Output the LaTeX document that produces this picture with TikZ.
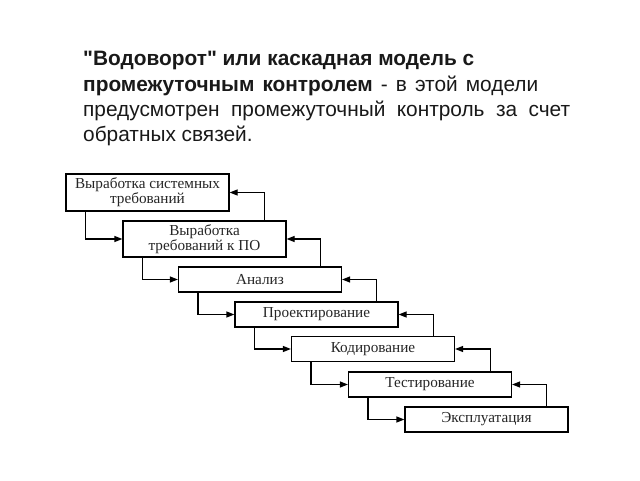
\documentclass[tikz,border=0pt]{standalone}
\usepackage{fontspec}
\setmainfont{Liberation Serif}
\newfontfamily\hdrfont{Liberation Sans}
\usetikzlibrary{arrows.meta}
\newlength\LenOne
\newlength\LenBox
\begin{document}
\settowidth\LenOne{\hdrfont\fontsize{10pt}{12pt}\selectfont\bfseries "Водоворот" или каскадная модель с}
\settowidth\LenBox{\fontsize{10pt}{12pt}\selectfont Выработка системных}
\pgfmathsetmacro\HdrSize{10*391/\LenOne}
\pgfmathsetmacro\HdrSkip{12*391/\LenOne}
\pgfmathsetmacro\BoxSize{10*145/\LenBox}
\begin{tikzpicture}[x=1pt,y=-1pt,
  hdr/.style={anchor=base west, inner sep=0pt, text=black!90,
    font=\hdrfont\fontsize{\HdrSize pt}{\HdrSkip pt}\selectfont},
  stage/.style={draw=black, line width=1.2pt, minimum width=163pt, inner sep=1pt,
    align=center, text=black!85, fill=white,
    font=\fontsize{\BoxSize pt}{15pt}\selectfont},
  arr/.style={line width=1.2pt, draw=black, -{Triangle[length=8pt,width=6pt]}}
]
\useasboundingbox[fill=white] (0,0) rectangle (640,480);

% header text
\node[hdr] (l1) at (83,65) {\bfseries "Водоворот" или каскадная модель с};
\node[hdr] (l2) at (83,91) {\makebox[455pt][s]{\bfseries промежуточным контролем\mdseries{} - в  этой  модели}};
\node[hdr] (l3) at (83,116) {\makebox[487pt][s]{предусмотрен  промежуточный  контроль  за  счет}};
\node[hdr] (l4) at (83,141) {обратных связей.};

% stages
\node[stage, minimum height=37pt] (b1) at (147.5,192.5) {Выработка системных\\требований};
\node[stage, minimum height=36pt] (b2) at (204.5,239) {Выработка\\требований к ПО};
\node[stage, minimum height=25pt] (b3) at (260,279.5) {Анализ};
\node[stage, minimum height=25pt] (b4) at (316.5,314.5) {Проектирование};
\node[stage, minimum height=25pt] (b5) at (373,349) {Кодирование};
\node[stage, minimum height=25pt] (b6) at (430,384.5) {Тестирование};
\node[stage, minimum height=25pt] (b7) at (486.5,419.5) {Эксплуатация};

% forward connectors
\foreach \a/\b in {b1/b2,b2/b3,b3/b4,b4/b5,b5/b6,b6/b7}{
  \draw[arr] ([xshift=20pt]\a.south west) |- (\b.west);
}
% feedback connectors
\foreach \a/\b in {b2/b1,b3/b2,b4/b3,b5/b4,b6/b5,b7/b6}{
  \draw[arr] ([xshift=-22pt]\a.north east) |- (\b.east);
}
\end{tikzpicture}
\end{document}
